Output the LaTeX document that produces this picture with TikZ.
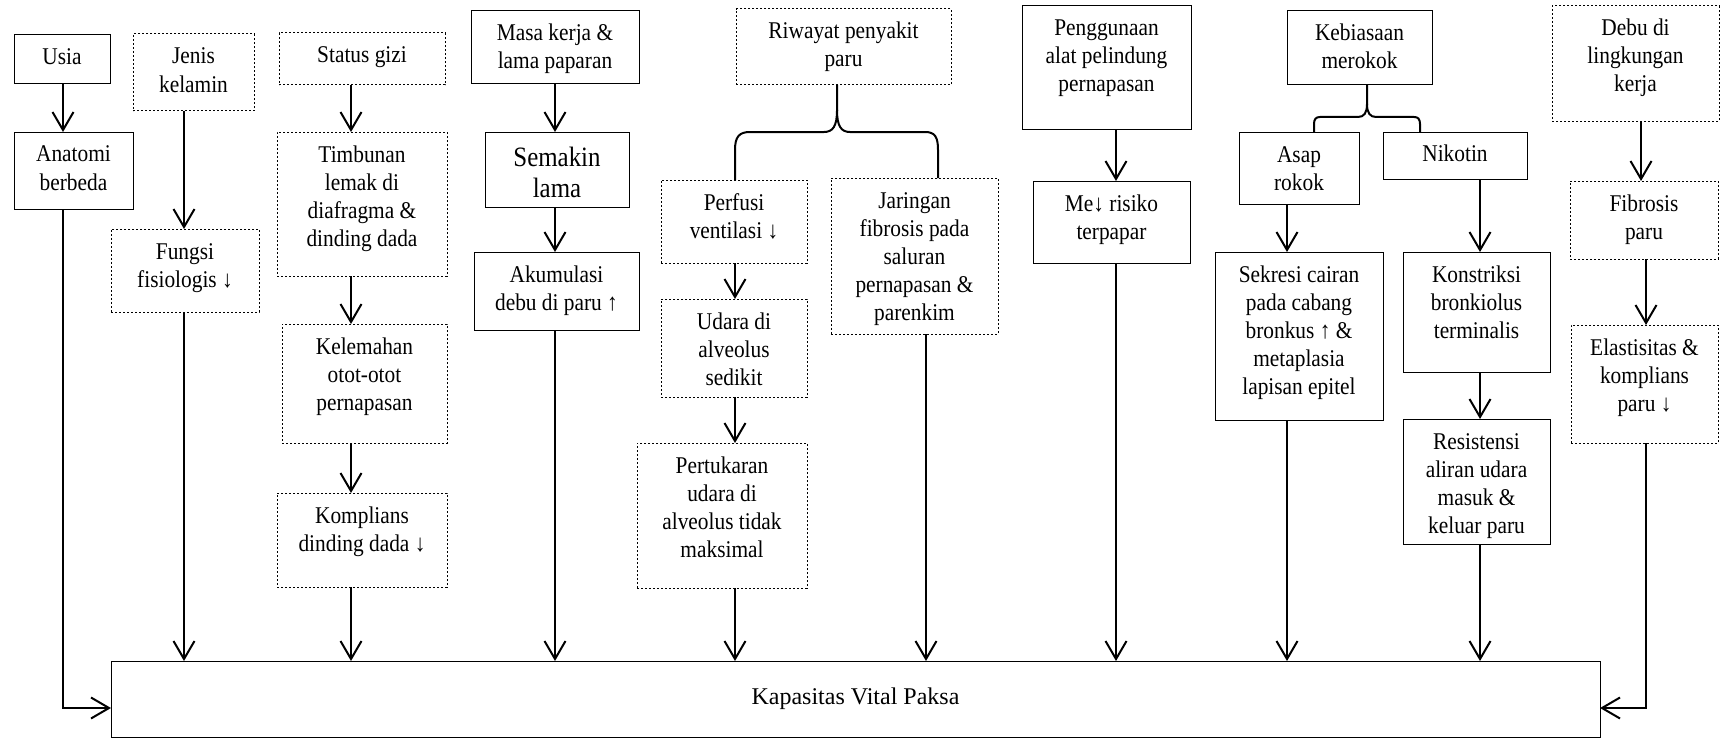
\documentclass[tikz,border=0pt]{standalone}
\usepackage{fontspec}
\setmainfont{Liberation Serif}
\newfontfamily\boxfam{Liberation Serif}[FakeStretch=0.89]
\usetikzlibrary{arrows.meta}
\newcommand\boxfont{\boxfam\fontsize{12pt}{14pt}\selectfont}
\newcommand\mybox[7]{\node[#1] (#2) at ({(#3+#5)/2},{(#4+#6)/2}) {\parbox[c][\dimexpr(#6pt-#4pt)/2\relax][t]{\dimexpr(#5pt-#3pt)/2\relax}{\centering\boxfont\rule{0pt}{15pt}#7}};}
\begin{document}
\begin{tikzpicture}[x=0.5pt,y=-0.5pt,
  solidbox/.style={draw,line width=0.5pt,inner sep=0pt,outer sep=0pt},
  dotbox/.style={solidbox,dash pattern=on 1.2pt off 0.8pt},
  link/.style={line width=1pt},
  arr/.style={line width=1pt,-{Straight Barb[length=9pt,width=10.5pt,line width=1pt]}}]
\useasboundingbox[fill=white] (0,0) rectangle (1722,738);
% boxes
\mybox{solidbox}{usia}{14}{35}{110}{84}{Usia}
\mybox{solidbox}{anat}{14}{132}{133}{209}{Anatomi\\berbeda}
\mybox{dotbox}{jenis}{133}{34}{254}{111}{Jenis\\kelamin}
\mybox{dotbox}{fungsi}{111}{229}{259}{312}{Fungsi\\fisiologis ↓}
\mybox{dotbox}{status}{279}{33}{445}{85}{Status gizi}
\mybox{dotbox}{timb}{277}{132}{447}{276}{Timbunan\\lemak di\\diafragma \&\\dinding dada}
\mybox{dotbox}{lemah}{282}{324}{447}{443}{Kelemahan\\otot-otot\\pernapasan}
\mybox{dotbox}{kompd}{277}{493}{447}{587}{Komplians\\dinding dada ↓}
\mybox{solidbox}{masa}{471}{11}{639}{84}{Masa kerja \&\\lama paparan}
\mybox{solidbox}{semakin}{485}{132}{629}{207}{\fontsize{14pt}{15.5pt}\selectfont\rule{0pt}{17pt}Semakin\\lama}
\mybox{solidbox}{akum}{474}{252}{639}{330}{Akumulasi\\debu di paru ↑}
\mybox{dotbox}{riw}{736}{9}{951}{85}{Riwayat penyakit\\paru}
\mybox{dotbox}{perf}{661}{180}{807}{263}{Perfusi\\ventilasi ↓}
\mybox{dotbox}{udara}{661}{299}{807}{397}{Udara di\\alveolus\\sedikit}
\mybox{dotbox}{pert}{637}{443}{807}{588}{Pertukaran\\udara di\\alveolus tidak\\maksimal}
\mybox{dotbox}{jar}{831}{178}{998}{334}{Jaringan\\fibrosis pada\\saluran\\pernapasan \&\\parenkim}
\mybox{solidbox}{peng}{1022}{6}{1191}{129}{Penggunaan\\alat pelindung\\pernapasan}
\mybox{solidbox}{me}{1033}{181}{1190}{263}{Me↓ risiko\\terpapar}
\mybox{solidbox}{keb}{1287}{11}{1432}{85}{Kebiasaan\\merokok}
\mybox{solidbox}{asap}{1239}{132}{1359}{204}{Asap\\rokok}
\mybox{solidbox}{nik}{1383}{132}{1527}{179}{Nikotin}
\mybox{solidbox}{sekr}{1215}{252}{1383}{420}{Sekresi cairan\\pada cabang\\bronkus ↑ \&\\metaplasia\\lapisan epitel}
\mybox{solidbox}{kons}{1403}{252}{1550}{372}{Konstriksi\\bronkiolus\\terminalis}
\mybox{solidbox}{resi}{1403}{419}{1550}{544}{Resistensi\\aliran udara\\masuk \&\\keluar paru}
\mybox{dotbox}{debu}{1552}{6}{1719}{121}{Debu di\\lingkungan\\kerja}
\mybox{dotbox}{fib}{1570}{181}{1718}{259}{Fibrosis\\paru}
\mybox{dotbox}{elas}{1571}{325}{1718}{443}{Elastisitas \&\\komplians\\paru ↓}
\node[solidbox,minimum width=744.5pt,minimum height=38pt,font=\fontsize{12pt}{14pt}\selectfont] (main) at (855.5,699) {Kapasitas Vital Paksa};
% columns
\coordinate (xU) at (63,0);
\coordinate (xJ) at (184,0);
\coordinate (xS) at (351,0);
\coordinate (xM) at (555,0);
\coordinate (xP) at (735,0);
\coordinate (xR) at (926,0);
\coordinate (xRb) at (938,0);
\coordinate (xB) at (837,0);
\coordinate (xG) at (1116,0);
\coordinate (xK) at (1367,0);
\coordinate (xA) at (1287,0);
\coordinate (xAb) at (1314,0);
\coordinate (xNb) at (1420,0);
\coordinate (xN) at (1480,0);
\coordinate (xD) at (1641,0);
\coordinate (xE) at (1646,0);
\coordinate (yL) at (0,708);
% connectors
\draw[arr] (usia.south -| xU) -- (anat.north -| xU);
\draw[arr] (anat.south -| xU) |- (main.west |- yL);
\draw[arr] (jenis.south -| xJ) -- (fungsi.north -| xJ);
\draw[arr] (fungsi.south -| xJ) -- (main.north -| xJ);
\draw[arr] (status.south -| xS) -- (timb.north -| xS);
\draw[arr] (timb.south -| xS) -- (lemah.north -| xS);
\draw[arr] (lemah.south -| xS) -- (kompd.north -| xS);
\draw[arr] (kompd.south -| xS) -- (main.north -| xS);
\draw[arr] (masa.south -| xM) -- (semakin.north -| xM);
\draw[arr] (semakin.south -| xM) -- (akum.north -| xM);
\draw[arr] (akum.south -| xM) -- (main.north -| xM);
\draw[arr] (perf.south -| xP) -- (udara.north -| xP);
\draw[arr] (udara.south -| xP) -- (pert.north -| xP);
\draw[arr] (pert.south -| xP) -- (main.north -| xP);
\draw[arr] (jar.south -| xR) -- (main.north -| xR);
\draw[arr] (peng.south -| xG) -- (me.north -| xG);
\draw[arr] (me.south -| xG) -- (main.north -| xG);
\draw[arr] (asap.south -| xA) -- (sekr.north -| xA);
\draw[arr] (sekr.south -| xA) -- (main.north -| xA);
\draw[arr] (nik.south -| xN) -- (kons.north -| xN);
\draw[arr] (kons.south -| xN) -- (resi.north -| xN);
\draw[arr] (resi.south -| xN) -- (main.north -| xN);
\draw[arr] (debu.south -| xD) -- (fib.north -| xD);
\draw[arr] (fib.south -| xE) -- (elas.north -| xE);
\draw[arr] (elas.south -| xE) |- (main.east |- yL);
% braces
\draw[link] (riw.south -| xB) -- (837,110) .. controls (837,126) and (833,132) .. (824,132) -- (750,132) .. controls (739,132) and (735,137) .. (735,150) -- (perf.north -| xP);
\draw[link] (837,110) .. controls (837,126) and (841,132) .. (850,132) -- (925,132) .. controls (935,132) and (938,137) .. (938,150) -- (jar.north -| xRb);
\draw[link] (keb.south -| xK) -- (1367,104) .. controls (1367,113) and (1364,117) .. (1358,117) -- (1320,117) .. controls (1316,117) and (1314,119) .. (1314,124) -- (asap.north -| xAb);
\draw[link] (1367,104) .. controls (1367,113) and (1370,117) .. (1376,117) -- (1414,117) .. controls (1418,117) and (1420,119) .. (1420,124) -- (nik.north -| xNb);
\end{tikzpicture}
\end{document}
